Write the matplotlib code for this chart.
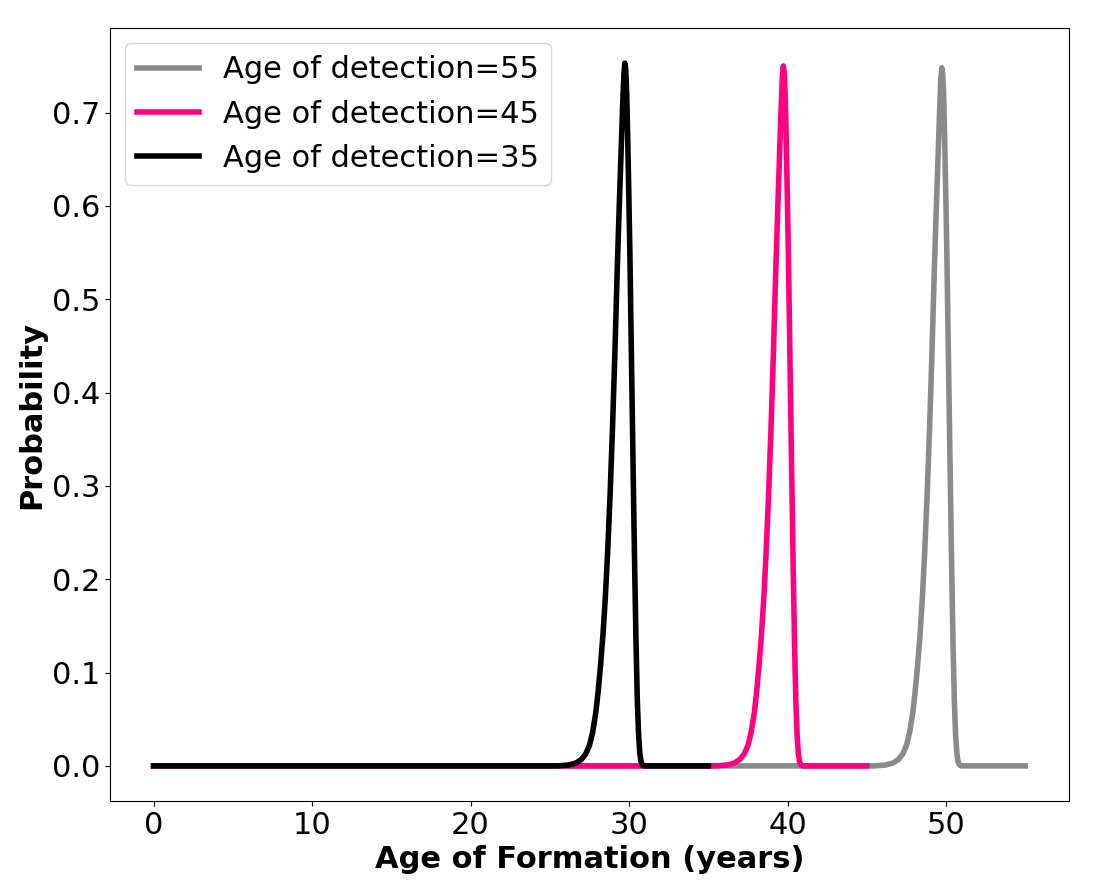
import matplotlib
matplotlib.use("Agg")
import matplotlib.pyplot as plt

# curves (age of formation, probability)
det55_x = [0, 45.5, 46.2, 46.64, 47.0, 47.27, 47.5, 47.7, 47.9, 48.05, 48.2, 48.35,
           48.5, 48.65, 48.8, 48.95, 49.1, 49.25, 49.38, 49.5, 49.6, 49.67, 49.73,
           49.79, 49.85, 49.91, 49.98, 50.05, 50.12, 50.2, 50.28, 50.36, 50.44, 50.52,
           50.6, 50.68, 50.76, 50.85, 50.95, 55]
det55_y = [0, 0, 0.001, 0.003, 0.007, 0.013, 0.022, 0.036, 0.057, 0.08, 0.107, 0.139,
           0.179, 0.229, 0.289, 0.358, 0.438, 0.527, 0.597, 0.656, 0.706, 0.736, 0.748,
           0.741, 0.716, 0.671, 0.612, 0.547, 0.468, 0.378, 0.289, 0.204, 0.129, 0.07,
           0.033, 0.013, 0.004, 0.001, 0, 0]

det45_x = [0, 35.5, 36.2, 36.64, 37.0, 37.27, 37.5, 37.7, 37.9, 38.05, 38.2, 38.35,
           38.5, 38.65, 38.8, 38.95, 39.1, 39.25, 39.38, 39.5, 39.6, 39.67, 39.73,
           39.79, 39.85, 39.91, 39.98, 40.05, 40.12, 40.2, 40.28, 40.36, 40.44, 40.52,
           40.6, 40.68, 40.76, 40.85, 40.95, 45]
det45_y = [0, 0, 0.001, 0.003, 0.007, 0.013, 0.022, 0.036, 0.057, 0.08, 0.108, 0.14,
           0.18, 0.23, 0.29, 0.359, 0.439, 0.528, 0.598, 0.658, 0.708, 0.738, 0.750,
           0.743, 0.718, 0.673, 0.613, 0.548, 0.469, 0.379, 0.29, 0.205, 0.13, 0.07,
           0.033, 0.013, 0.004, 0.001, 0, 0]

det35_x = [0, 25.5, 26.2, 26.64, 27.0, 27.27, 27.5, 27.7, 27.9, 28.05, 28.2, 28.35,
           28.5, 28.65, 28.8, 28.95, 29.1, 29.25, 29.38, 29.5, 29.6, 29.67, 29.73,
           29.79, 29.85, 29.91, 29.98, 30.05, 30.12, 30.2, 30.28, 30.36, 30.44, 30.52,
           30.6, 30.68, 30.76, 30.85, 30.95, 35]
det35_y = [0, 0, 0.001, 0.003, 0.007, 0.013, 0.022, 0.036, 0.057, 0.08, 0.108, 0.14,
           0.18, 0.23, 0.29, 0.36, 0.44, 0.53, 0.60, 0.66, 0.71, 0.74, 0.753,
           0.746, 0.72, 0.675, 0.615, 0.55, 0.47, 0.38, 0.29, 0.205, 0.13, 0.07,
           0.033, 0.013, 0.004, 0.001, 0, 0]

labels = ["Age of detection=55", "Age of detection=45", "Age of detection=35"]

fig, ax = plt.subplots(figsize=(11.02, 8.94), dpi=100)
fig.subplots_adjust(left=0.0998, right=0.970, top=0.9687, bottom=0.104)

ax.plot(det55_x, det55_y, color="#8a8a8a", lw=4, label=labels[0])
ax.plot(det45_x, det45_y, color="#ff0080", lw=4, label=labels[1])
ax.plot(det35_x, det35_y, color="black", lw=4, label=labels[2])

ax.set_xlabel("Age of Formation (years)", fontsize=22, fontweight="bold")
ax.set_ylabel("Probability", fontsize=22, fontweight="bold")
ax.tick_params(labelsize=22)
ax.legend(loc="upper left", fontsize=22)

fig.savefig("out.png")
